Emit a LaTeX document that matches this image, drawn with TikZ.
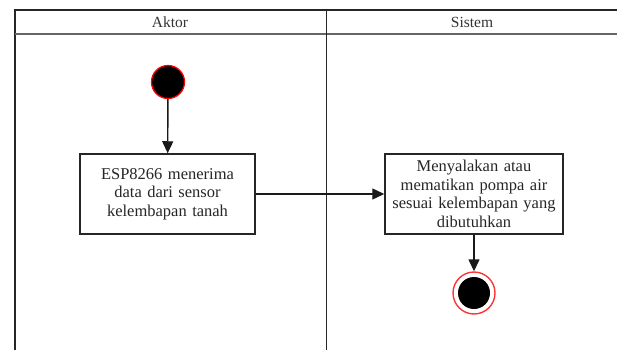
\documentclass[tikz,border=0pt]{standalone}
\usepackage{fontspec}
\setmainfont{Liberation Serif}
\usetikzlibrary{arrows.meta}
\begin{document}
\begin{tikzpicture}[x=1pt,y=-1pt,
  lane/.style={line width=1.5pt, draw=black!85},
  actbox/.style={draw=black!85, line width=1.5pt, fill=white, align=center, inner sep=2pt,
    font=\fontsize{16.5}{18.5}\selectfont, text=black!85},
  flow/.style={line width=1.4pt, draw=black!90, -{Triangle[length=12pt,width=11pt]}},
  hdr/.style={font=\fontsize{15.5}{17}\selectfont, text=black!80}]
\useasboundingbox (0,0) rectangle (617,350);
% swimlanes
\draw[lane] (617,10) -- (15,10) -- (15,350);
\draw[lane, draw=black!60] (15,34) -- (617,34);
\draw[lane] (326.5,10) -- (326.5,350);
\node[hdr] (haktor) at (170,22) {Aktor};
\node[hdr] (hsistem) at (472,22) {Sistem};
% start
\node[circle, fill=black, draw=red, line width=1.3pt, minimum size=33pt, inner sep=0pt] (start) at (168,82) {};
% activities
\node[actbox, minimum width=175pt, minimum height=80pt, text width=170pt] (a1) at (167.5,194) {ESP8266 menerima\\data dari sensor\\kelembapan tanah};
\node[actbox, minimum width=176pt, minimum height=80pt, text width=174pt] (a2) at (474,194) {Menyalakan atau\\mematikan pompa air\\sesuai kelembapan yang\\dibutuhkan};
% end
\node[circle, draw=red!80, line width=1.4pt, minimum size=42pt, inner sep=0pt] (end) at (474,293) {};
\node[circle, fill=black, minimum size=32pt, inner sep=0pt] (endin) at (end.center) {};
% flows
\draw[flow] (start) -- (a1);
\draw[flow] (a1.east) -- (a2.west);
\draw[flow] (a2) -- (end);
\end{tikzpicture}
\end{document}
